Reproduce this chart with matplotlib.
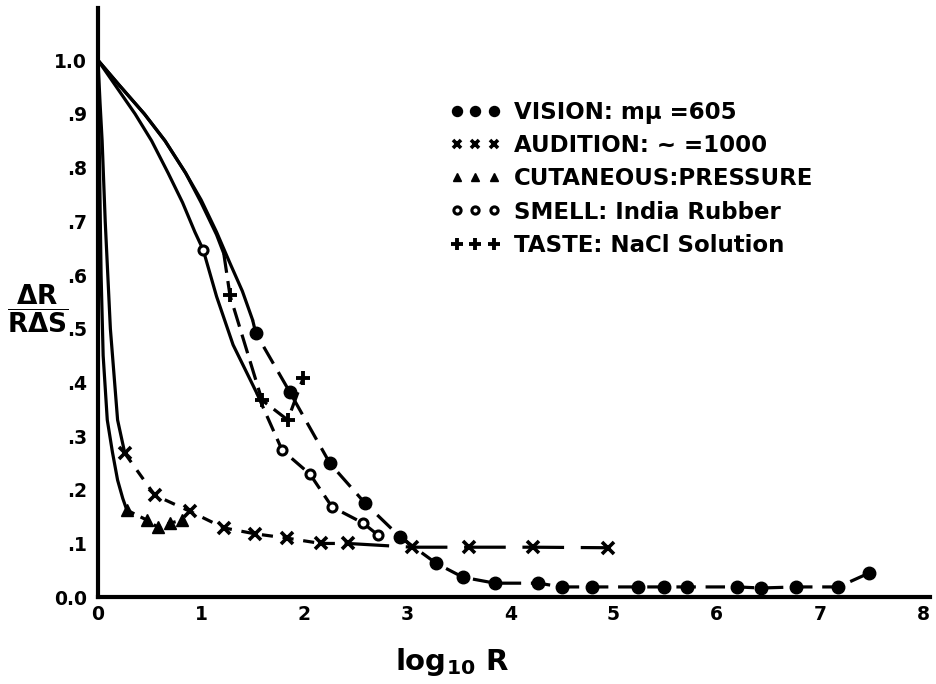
#!/usr/bin/env python3
"""Relative differential threshold vs. log stimulus for five senses."""

import matplotlib
matplotlib.use("Agg")
import matplotlib.pyplot as plt
from matplotlib.lines import Line2D


# each sense: a hand-drawn solid lead-in from (0, 1.0), then the observed (marked) points
VISION_CURVE_X = [0.0, 0.2, 0.45, 0.65, 0.85, 1.0, 1.15, 1.28, 1.4, 1.5]
VISION_CURVE_Y = [1.0, 0.955, 0.9, 0.85, 0.79, 0.74, 0.68, 0.622, 0.57, 0.516]
VISION_X = [1.53, 1.86, 2.25, 2.59, 2.93, 3.28, 3.54, 3.85, 4.27, 4.5, 4.79,
            5.24, 5.49, 5.71, 6.2, 6.43, 6.77, 7.18, 7.48]
VISION_Y = [0.492, 0.382, 0.249, 0.175, 0.112, 0.063, 0.037, 0.026, 0.026, 0.019, 0.019,
            0.019, 0.019, 0.019, 0.019, 0.017, 0.019, 0.019, 0.045]

AUDITION_CURVE_X = [0.0, 0.02, 0.04, 0.07, 0.12, 0.19, 0.26]
AUDITION_CURVE_Y = [1.0, 0.92, 0.85, 0.7, 0.5, 0.33, 0.268]
AUDITION_X = [0.26, 0.55, 0.89, 1.22, 1.52, 1.83, 2.16, 2.42, 3.05, 3.6, 4.22, 4.95]
AUDITION_Y = [0.268, 0.19, 0.16, 0.129, 0.118, 0.11, 0.10, 0.10, 0.093, 0.093, 0.093, 0.092]

CUTANEOUS_CURVE_X = [0.0, 0.015, 0.03, 0.05, 0.09, 0.14, 0.19, 0.24, 0.28]
CUTANEOUS_CURVE_Y = [1.0, 0.8, 0.6, 0.45, 0.33, 0.27, 0.218, 0.184, 0.162]
CUTANEOUS_X = [0.28, 0.48, 0.58, 0.7, 0.81]
CUTANEOUS_Y = [0.162, 0.143, 0.13, 0.138, 0.143]

SMELL_CURVE_X = [0.0, 0.18, 0.36, 0.52, 0.68, 0.82, 0.94, 1.02, 1.15, 1.31, 1.54]
SMELL_CURVE_Y = [1.0, 0.95, 0.9, 0.85, 0.79, 0.735, 0.68, 0.647, 0.56, 0.47, 0.38]
SMELL_X = [1.02, 1.785, 2.056, 2.27, 2.57, 2.72]
SMELL_Y = [0.647, 0.274, 0.229, 0.168, 0.138, 0.115]

TASTE_CURVE_X = [0.0, 0.2, 0.45, 0.65, 0.85, 1.0, 1.15, 1.22]
TASTE_CURVE_Y = [1.0, 0.955, 0.9, 0.85, 0.79, 0.735, 0.675, 0.64]
TASTE_X = [1.28, 1.59, 1.84, 1.99]
TASTE_Y = [0.562, 0.367, 0.33, 0.408]

LABELS = [
    "VISION: m\u03bc =605",
    "AUDITION: ~ =1000",
    "CUTANEOUS:PRESSURE",
    "SMELL: India Rubber",
    "TASTE: NaCl Solution",
]

Y_TICKS = [0.0, 0.1, 0.2, 0.3, 0.4, 0.5, 0.6, 0.7, 0.8, 0.9, 1.0]
Y_TICK_LABELS = ["0.0", ".1", ".2", ".3", ".4", ".5", ".6", ".7", ".8", ".9", "1.0"]
X_TICKS = [0, 1, 2, 3, 4, 5, 6, 7, 8]

LW = 2.3
STYLE_VISION = dict(marker="o", markersize=9, color="black")
STYLE_AUDITION = dict(marker="x", markersize=8, markeredgewidth=2.6, color="black")
STYLE_CUTANEOUS = dict(marker="^", markersize=8, color="black")
STYLE_SMELL = dict(marker="o", markersize=6.5, markerfacecolor="white",
                   markeredgewidth=2.2, color="black")
STYLE_TASTE = dict(marker="+", markersize=10, markeredgewidth=2.8, color="black")


def draw_series(ax, curve_x, curve_y, pts_x, pts_y, style, dashes, long_from=None):
    ax.plot(curve_x, curve_y, color="black", lw=LW, solid_capstyle="round",
            solid_joinstyle="round")
    tail_x = [curve_x[-1]] + [x for x in pts_x if x > curve_x[-1]]
    tail_y = [curve_y[-1]] + [y for x, y in zip(pts_x, pts_y) if x > curve_x[-1]]
    if long_from is None:
        ax.plot(tail_x, tail_y, color="black", lw=LW, dashes=dashes)
    else:
        k = tail_x.index(long_from)
        ax.plot(tail_x[:k + 1], tail_y[:k + 1], color="black", lw=LW, dashes=dashes)
        ax.plot(tail_x[k:], tail_y[k:], color="black", lw=LW, dashes=(30, 12))
    ax.plot(pts_x, pts_y, linestyle="none", **style)


def main():
    plt.rcParams["font.family"] = ["DejaVu Sans"]
    plt.rcParams["font.weight"] = "bold"
    plt.rcParams["mathtext.default"] = "bf"
    plt.rcParams["lines.scale_dashes"] = False

    fig = plt.figure(figsize=(9.36, 6.84), dpi=100)
    ax = fig.add_axes([0.1047, 0.127, 0.889, 0.861])

    draw_series(ax, VISION_CURVE_X, VISION_CURVE_Y, VISION_X, VISION_Y, STYLE_VISION, (14, 7))
    draw_series(ax, AUDITION_CURVE_X, AUDITION_CURVE_Y, AUDITION_X, AUDITION_Y,
                STYLE_AUDITION, (8, 7), long_from=2.42)
    draw_series(ax, CUTANEOUS_CURVE_X, CUTANEOUS_CURVE_Y, CUTANEOUS_X, CUTANEOUS_Y,
                STYLE_CUTANEOUS, (6, 5))
    draw_series(ax, SMELL_CURVE_X, SMELL_CURVE_Y, SMELL_X, SMELL_Y, STYLE_SMELL, (12, 6))
    draw_series(ax, TASTE_CURVE_X, TASTE_CURVE_Y, TASTE_X, TASTE_Y, STYLE_TASTE, (14, 6))

    ax.set_xlim(0, 8.07)
    ax.set_ylim(0, 1.097)
    ax.spines["top"].set_visible(False)
    ax.spines["right"].set_visible(False)
    ax.spines["left"].set_linewidth(3)
    ax.spines["bottom"].set_linewidth(3)
    ax.set_yticks(Y_TICKS, Y_TICK_LABELS)
    ax.set_xticks(X_TICKS, [str(t) for t in X_TICKS])
    ax.tick_params(axis="both", length=0, labelsize=13.5)
    ax.tick_params(axis="y", pad=8)
    ax.tick_params(axis="x", pad=6)

    ax.set_ylabel(r"$\dfrac{\Delta R}{R\Delta S}$", rotation=0, fontsize=19,
                  ha="center", va="center")
    ax.yaxis.set_label_coords(-0.072, 0.49)
    ax.set_xlabel(r"log$_{10}$ R", fontsize=21, fontweight="bold", va="center")
    ax.xaxis.set_label_coords(0.425, -0.11)

    handles = [Line2D([], [], linestyle="none", **s) for s in
               (STYLE_VISION, STYLE_AUDITION, STYLE_CUTANEOUS, STYLE_SMELL, STYLE_TASTE)]
    for h in handles:
        h.set_markersize(h.get_markersize() * 0.8)
    ax.legend(handles, LABELS, loc="upper left", bbox_to_anchor=(0.423, 0.842),
              frameon=False, numpoints=3, handlelength=2.2, handletextpad=0.6,
              labelspacing=0.44, borderpad=0, borderaxespad=0,
              prop={"size": 16.5, "weight": "bold"})

    fig.savefig("out.png", dpi=100)


if __name__ == "__main__":
    main()
